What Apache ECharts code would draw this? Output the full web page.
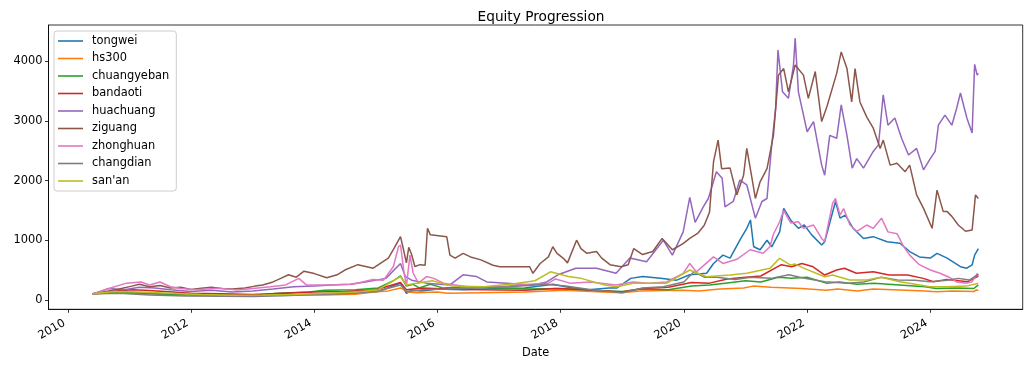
<!DOCTYPE html>
<html>
<head>
<meta charset="utf-8">
<script src="https://cdn.jsdelivr.net/npm/echarts@6/dist/echarts.min.js"></script>
<style>
html,body{margin:0;padding:0;background:#fff;}
#chart{width:1033px;height:366px;}
</style>
</head>
<body>
<div id="chart"></div>
<script>
// ---------- data ----------
const seriesNames = ["tongwei","hs300","chuangyeban","bandaoti","huachuang","ziguang","zhonghuan","changdian","san'an"];
const seriesColors = ["#1f77b4","#ff7f0e","#2ca02c","#d62728","#9467bd","#8c564b","#e377c2","#7f7f7f","#bcbd22"];
const yTickValues = [0,1000,2000,3000,4000];
const xTickYears = [2010,2012,2014,2016,2018,2020,2022,2024];
const xRange = ["2009-09-08","2025-07-02"];
const yRange = [-159, 4611];

const tongwei = [
["2010-05-28",100],["2010-10-01",120],["2011-03-01",110],["2011-09-01",90],["2012-03-01",80],["2012-09-01",65],
["2013-03-01",75],["2013-09-01",85],["2014-03-01",95],["2014-09-01",110],["2015-01-15",140],["2015-05-27",280],
["2015-07-01",110],["2015-08-01",160],["2015-10-01",150],["2016-01-01",180],["2016-06-01",170],["2017-01-01",190],
["2017-06-01",200],["2017-11-15",260],["2018-02-15",210],["2018-06-15",170],["2018-10-15",200],["2018-12-01",200],
["2019-02-20",360],["2019-05-01",390],["2019-08-15",360],["2019-11-20",330],["2020-02-05",420],["2020-05-15",445],
["2020-06-25",610],["2020-08-20",750],["2020-10-01",700],["2020-11-28",1000],["2021-01-08",1200],["2021-01-30",1340],
["2021-02-18",890],["2021-03-28",840],["2021-05-08",1000],["2021-06-05",890],["2021-07-22",1140],["2021-08-15",1535],
["2021-09-25",1340],["2021-11-10",1200],["2021-12-15",1255],["2022-01-28",1090],["2022-03-28",920],["2022-04-15",975],
["2022-06-18",1650],["2022-07-15",1370],["2022-08-15",1420],["2022-10-01",1200],["2022-12-01",1030],["2023-01-28",1060],
["2023-04-20",975],["2023-07-05",950],["2023-09-01",810],["2023-10-28",720],["2024-01-01",700],["2024-02-10",780],
["2024-04-10",700],["2024-06-28",555],["2024-08-05",530],["2024-09-05",585],["2024-09-20",750],["2024-10-12",860]
];
const hs300 = [
["2010-05-28",100],["2010-11-01",115],["2011-04-15",110],["2011-10-01",90],["2012-04-01",90],["2012-12-01",80],
["2013-06-01",85],["2014-03-01",80],["2014-09-01",95],["2014-12-20",130],["2015-03-15",150],["2015-05-27",200],
["2015-07-10",130],["2015-09-01",120],["2016-01-01",130],["2016-03-01",110],["2016-10-01",120],["2017-06-01",130],
["2018-01-20",160],["2018-07-01",140],["2018-12-25",120],["2019-04-15",150],["2019-12-25",160],["2020-04-01",150],
["2020-08-01",180],["2020-12-20",200],["2021-02-15",230],["2021-06-01",210],["2021-12-01",190],["2022-04-25",160],
["2022-07-01",180],["2022-10-25",150],["2023-01-28",180],["2023-07-01",165],["2023-12-01",150],["2024-02-05",135],
["2024-05-15",150],["2024-09-15",140],["2024-09-30",165],["2024-10-12",160]
];
const chuangyeban = [
["2010-05-28",100],["2010-11-01",130],["2011-04-01",110],["2011-10-01",90],["2012-04-01",85],["2012-12-01",70],
["2013-06-01",110],["2013-12-01",130],["2014-03-01",160],["2014-09-01",170],["2015-01-15",200],["2015-04-15",320],
["2015-05-27",400],["2015-07-01",230],["2015-08-10",260],["2015-09-15",200],["2015-11-20",260],["2016-02-01",200],
["2016-07-01",220],["2017-01-01",200],["2017-07-01",180],["2018-01-15",190],["2018-07-01",160],["2019-01-01",140],
["2019-04-15",180],["2019-10-01",170],["2020-02-15",230],["2020-06-01",250],["2020-09-01",280],["2021-01-01",320],
["2021-04-01",300],["2021-07-15",380],["2021-10-01",360],["2022-01-01",380],["2022-04-25",280],["2022-07-10",300],
["2022-10-25",260],["2023-02-01",280],["2023-07-01",250],["2023-12-01",220],["2024-02-05",190],["2024-06-01",200],
["2024-09-15",190],["2024-10-12",250]
];
const bandaoti = [
["2010-05-28",100],["2010-09-01",140],["2011-01-15",170],["2011-04-01",160],["2011-08-01",140],["2012-01-01",110],
["2012-07-01",100],["2013-01-01",90],["2013-07-01",110],["2014-01-01",130],["2014-07-01",140],["2015-01-01",170],
["2015-05-27",290],["2015-07-01",170],["2015-10-01",200],["2016-03-01",180],["2016-10-01",170],["2017-06-01",160],
["2017-12-01",190],["2018-06-01",170],["2019-01-01",130],["2019-05-01",190],["2019-10-01",210],["2020-02-15",290],
["2020-06-01",280],["2020-09-15",350],["2021-01-01",380],["2021-04-01",400],["2021-08-01",590],["2021-10-01",555],
["2021-12-01",610],["2022-02-01",560],["2022-04-15",416],["2022-06-25",500],["2022-08-10",530],["2022-10-20",445],
["2023-01-28",472],["2023-05-01",416],["2023-08-20",416],["2023-11-20",360],["2024-01-20",304],["2024-04-10",343],
["2024-08-10",304],["2024-10-12",400]
];
const huachuang = [
["2010-05-28",100],["2010-09-01",190],["2010-12-01",170],["2011-03-01",210],["2011-06-01",200],["2011-09-01",170],
["2012-01-01",140],["2012-05-01",160],["2012-09-01",130],["2013-01-01",150],["2013-05-01",180],["2013-09-01",220],
["2014-01-01",230],["2014-04-15",250],["2014-08-01",260],["2014-11-01",300],["2015-03-01",360],["2015-05-27",610],
["2015-06-25",390],["2015-08-01",330],["2015-10-25",280],["2016-03-15",250],["2016-06-01",420],["2016-08-20",390],
["2016-10-20",300],["2017-02-15",280],["2017-07-20",250],["2017-10-10",300],["2017-12-15",420],["2018-04-01",530],
["2018-08-01",530],["2018-11-25",445],["2019-02-15",700],["2019-05-25",640],["2019-09-01",1000],["2019-10-25",750],
["2019-12-28",1140],["2020-02-05",1720],["2020-03-08",1300],["2020-04-25",1560],["2020-05-25",1700],["2020-07-12",2150],
["2020-08-15",2040],["2020-09-01",1560],["2020-10-20",1650],["2020-11-28",2010],["2021-01-08",1930],["2021-02-28",1370],
["2021-04-08",1650],["2021-05-08",1700],["2021-06-05",2600],["2021-06-28",3210],["2021-07-12",4190],["2021-08-08",3490],
["2021-09-12",3380],["2021-10-12",3940],["2021-10-22",4390],["2021-11-10",3490],["2022-01-01",2820],["2022-02-08",2990],
["2022-03-28",2260],["2022-04-15",2090],["2022-05-15",2760],["2022-06-25",2710],["2022-07-22",3270],["2022-08-25",2760],
["2022-09-25",2210],["2022-10-22",2370],["2022-12-01",2210],["2023-01-28",2490],["2023-02-28",2600],["2023-03-28",3440],
["2023-04-25",2930],["2023-06-05",3050],["2023-07-15",2710],["2023-08-25",2430],["2023-10-12",2540],["2023-11-22",2180],
["2024-01-01",2370],["2024-01-30",2490],["2024-02-18",2930],["2024-03-28",3100],["2024-05-08",2930],["2024-06-05",3210],
["2024-06-28",3470],["2024-08-05",3050],["2024-09-05",2800],["2024-09-20",3950],["2024-10-05",3770],["2024-10-12",3800]
];
const ziguang = [
["2010-05-28",100],["2010-08-01",130],["2010-11-01",180],["2011-01-15",230],["2011-03-01",260],["2011-05-01",220],
["2011-07-01",240],["2011-09-01",200],["2011-11-01",210],["2012-01-01",175],["2012-03-01",195],["2012-05-01",210],
["2012-07-01",190],["2012-09-01",180],["2012-11-16",200],["2013-01-15",230],["2013-03-01",250],["2013-05-01",300],
["2013-06-16",360],["2013-08-01",420],["2013-09-16",380],["2013-11-01",480],["2014-01-01",440],["2014-03-16",370],
["2014-05-16",420],["2014-07-01",500],["2014-09-16",590],["2014-11-01",560],["2014-12-16",530],["2015-02-01",620],
["2015-03-16",700],["2015-04-16",850],["2015-05-27",1060],["2015-06-10",890],["2015-07-01",620],["2015-07-15",880],
["2015-08-01",760],["2015-08-20",560],["2015-09-20",590],["2015-10-20",580],["2015-11-03",1200],["2015-11-20",1090],
["2015-11-28",1060],["2016-02-25",1060],["2016-03-15",750],["2016-04-15",700],["2016-06-01",780],["2016-07-15",720],
["2016-09-15",670],["2016-11-25",580],["2017-01-05",555],["2017-07-01",555],["2017-07-20",445],["2017-09-01",610],
["2017-10-20",720],["2017-11-15",890],["2017-12-10",780],["2018-01-15",700],["2018-02-10",620],["2018-04-05",1000],
["2018-05-01",860],["2018-06-05",780],["2018-08-01",810],["2018-09-01",700],["2018-10-20",590],["2018-12-25",555],
["2019-02-05",590],["2019-03-10",860],["2019-05-01",760],["2019-07-01",810],["2019-08-25",1030],["2019-10-25",840],
["2019-12-25",940],["2020-02-05",1030],["2020-03-25",1120],["2020-05-01",1250],["2020-06-01",1470],["2020-06-25",2320],
["2020-07-22",2680],["2020-08-12",2200],["2020-10-01",2210],["2020-11-10",1760],["2020-12-20",2090],["2021-01-08",2540],
["2021-02-05",2090],["2021-02-28",1700],["2021-03-28",1980],["2021-05-08",2200],["2021-06-15",2760],["2021-07-15",3770],
["2021-08-15",3880],["2021-09-12",3490],["2021-10-22",3940],["2021-12-10",3770],["2022-01-08",3380],["2022-02-18",3830],
["2022-03-28",2990],["2022-04-28",3240],["2022-06-25",3800],["2022-07-22",4160],["2022-08-25",3880],["2022-09-22",3320],
["2022-10-12",3880],["2022-11-10",3320],["2022-12-20",3070],["2023-01-28",2880],["2023-03-10",2540],["2023-03-28",2680],
["2023-05-08",2260],["2023-06-18",2290],["2023-08-05",2150],["2023-09-01",2260],["2023-10-12",1760],["2023-11-22",1535],
["2024-01-12",1200],["2024-02-10",1840],["2024-03-18",1480],["2024-04-10",1480],["2024-05-08",1400],["2024-06-15",1255],
["2024-07-28",1150],["2024-09-05",1170],["2024-09-25",1760],["2024-10-12",1700]
];
const zhonghuan = [
["2010-05-28",100],["2010-09-01",190],["2010-12-15",280],["2011-03-10",300],["2011-05-01",250],["2011-07-01",300],
["2011-09-01",220],["2011-11-01",190],["2012-02-01",170],["2012-06-15",195],["2012-10-01",165],["2013-01-01",190],
["2013-04-15",220],["2013-07-15",250],["2013-10-01",360],["2013-11-15",250],["2014-03-01",250],["2014-08-15",260],
["2014-12-15",340],["2015-02-15",330],["2015-04-15",560],["2015-05-15",890],["2015-05-27",920],["2015-06-15",500],
["2015-07-01",230],["2015-07-22",750],["2015-08-10",450],["2015-09-10",280],["2015-10-28",390],["2015-12-10",360],
["2016-02-05",280],["2016-06-25",220],["2017-01-05",220],["2017-07-20",265],["2017-10-20",280],["2017-12-01",350],
["2018-02-25",280],["2018-06-25",300],["2018-11-25",250],["2019-03-05",300],["2019-06-10",280],["2019-09-20",300],
["2019-12-28",445],["2020-02-05",610],["2020-03-15",470],["2020-06-25",720],["2020-08-20",610],["2020-11-10",680],
["2021-01-28",840],["2021-04-15",780],["2021-05-25",890],["2021-06-15",1100],["2021-07-22",1310],["2021-08-15",1500],
["2021-09-25",1290],["2021-11-10",1310],["2021-12-10",1200],["2022-02-08",1255],["2022-03-28",1030],["2022-04-15",975],
["2022-06-01",1620],["2022-06-18",1700],["2022-07-15",1420],["2022-08-05",1530],["2022-09-12",1255],["2022-10-22",1150],
["2022-12-20",1255],["2023-01-28",1200],["2023-03-18",1370],["2023-04-25",1140],["2023-06-18",1110],["2023-07-28",890],
["2023-09-01",750],["2023-10-28",590],["2024-01-01",500],["2024-02-28",445],["2024-04-28",370],["2024-06-05",300],
["2024-08-05",280],["2024-09-05",304],["2024-10-05",440],["2024-10-12",400]
];
const changdian = [
["2010-05-28",100],["2010-11-01",110],["2011-05-01",80],["2011-12-01",65],["2012-07-01",60],["2013-01-01",55],
["2013-07-01",70],["2014-01-01",90],["2014-07-01",100],["2015-01-01",140],["2015-05-27",250],["2015-07-01",140],
["2015-10-01",170],["2016-03-01",180],["2016-09-01",200],["2017-03-01",220],["2017-10-01",260],["2018-02-01",230],
["2018-07-01",170],["2019-01-01",120],["2019-05-01",200],["2019-09-01",220],["2020-01-01",300],["2020-03-01",470],
["2020-05-01",380],["2020-07-15",380],["2020-11-01",340],["2021-02-01",380],["2021-06-01",360],["2021-09-15",420],
["2021-12-01",371],["2022-04-15",304],["2022-09-01",277],["2022-12-01",300],["2023-03-15",377],["2023-06-20",332],
["2023-10-01",330],["2024-01-01",304],["2024-04-10",330],["2024-06-15",360],["2024-08-20",332],["2024-10-12",433]
];
const sanan = [
["2010-05-28",100],["2010-10-01",140],["2011-03-01",130],["2011-09-01",110],["2012-03-01",90],["2012-09-01",75],
["2013-03-01",80],["2013-09-01",90],["2014-03-01",110],["2014-09-01",130],["2015-01-15",170],["2015-05-27",390],
["2015-07-01",250],["2015-09-01",280],["2015-12-01",320],["2016-04-01",230],["2016-10-01",220],["2017-04-01",270],
["2017-08-01",320],["2017-11-01",470],["2018-02-15",390],["2018-05-01",360],["2018-09-20",250],["2018-12-01",220],
["2019-03-05",277],["2019-09-20",277],["2020-02-05",500],["2020-05-15",388],["2020-10-01",416],["2021-01-08",445],
["2021-05-25",528],["2021-07-22",696],["2021-09-25",584],["2021-10-22",600],["2021-12-15",528],["2022-04-15",388],
["2022-06-01",416],["2022-09-10",332],["2022-12-20",332],["2023-03-15",377],["2023-07-05",304],["2023-11-01",248],
["2024-01-01",220],["2024-04-10",220],["2024-08-01",230],["2024-10-12",277]
];
const seriesData = [tongwei,hs300,chuangyeban,bandaoti,huachuang,ziguang,zhonghuan,changdian,sanan];

// ---------- chart ----------
const FONT = "DejaVu Sans";
const toTime = (s) => Date.parse(s + "T00:00:00Z");
const xTickTimes = xTickYears.map(y => Date.UTC(y,0,1));
const chart = echarts.init(document.getElementById('chart'), null, {renderer:'canvas'});
chart.setOption({
  animation:false,
  backgroundColor:'#ffffff',
  textStyle:{fontFamily:FONT},
  title:{
    text:'Equity Progression', left:536, top:5, textAlign:'center',
    textStyle:{fontFamily:FONT,fontSize:13.7,fontWeight:'normal',color:'#000'}
  },
  grid:{left:48.5, right:10.3, top:25, bottom:56.7, show:true, borderColor:'#000', borderWidth:0.8, backgroundColor:'transparent'},
  legend:{
    orient:'vertical', left:54, top:31,
    data:seriesNames,
    icon:'rect', itemWidth:25, itemHeight:1.6, itemGap:3.5,
    padding:[3,7,3,4],
    backgroundColor:'rgba(255,255,255,0.8)', borderColor:'#cccccc', borderWidth:1, borderRadius:3,
    textStyle:{fontFamily:FONT,fontSize:11.4,color:'#000',lineHeight:14,padding:[0,0,0,4]}
  },
  xAxis:{
    type:'value',
    min:toTime(xRange[0]), max:toTime(xRange[1]),
    name:'Date', nameLocation:'middle', nameGap:37,
    nameTextStyle:{fontFamily:FONT,fontSize:11.4,color:'#000'},
    axisLine:{show:true,onZero:false,lineStyle:{color:'#000',width:0.8}},
    axisTick:{show:true,length:3.5,lineStyle:{color:'#000',width:0.8},customValues:xTickTimes},
    axisLabel:{show:true,rotate:30,margin:11,fontFamily:FONT,fontSize:11.4,color:'#000',padding:[0,4,0,0],
      customValues:xTickTimes,
      formatter:(v)=>String(new Date(v).getUTCFullYear())},
    splitLine:{show:false}
  },
  yAxis:{
    type:'value',
    min:yRange[0], max:yRange[1],
    axisLine:{show:true,lineStyle:{color:'#000',width:0.8}},
    axisTick:{show:true,length:3.5,lineStyle:{color:'#000',width:0.8},customValues:yTickValues},
    axisLabel:{show:true,margin:6,fontFamily:FONT,fontSize:11.4,color:'#000',customValues:yTickValues,
      formatter:(v)=>String(Math.round(v))},
    splitLine:{show:false}
  },
  series:seriesNames.map((n,i)=>({
    name:n, type:'line', data:seriesData[i].map(p=>[toTime(p[0]),p[1]]), showSymbol:false, symbol:'none',
    color:seriesColors[i],
    lineStyle:{width:1.5,color:seriesColors[i]},
    emphasis:{disabled:true}
  }))
});
</script>
</body>
</html>
